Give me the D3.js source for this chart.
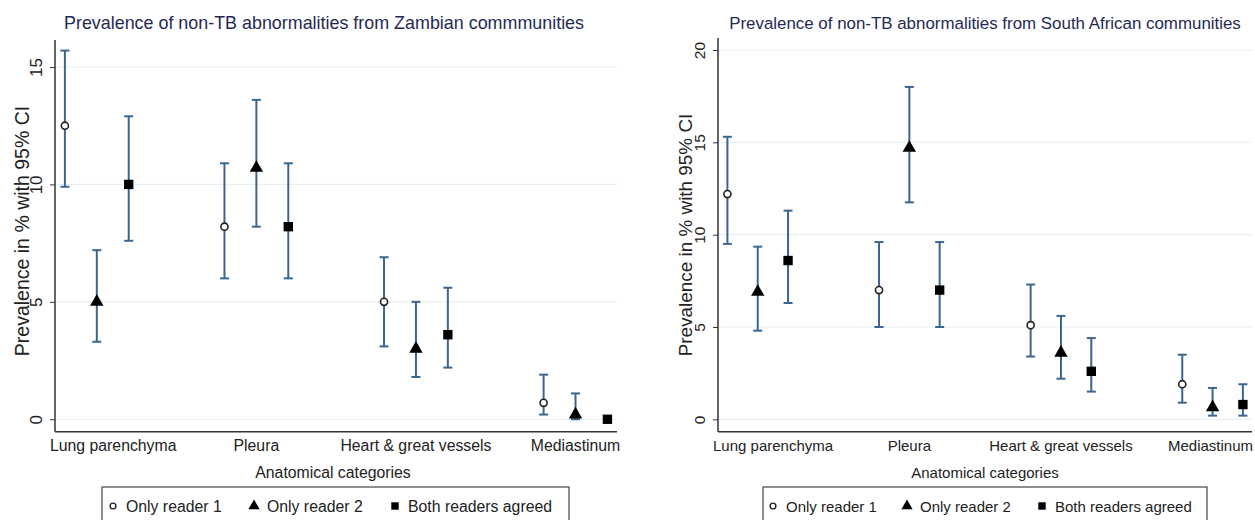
<!DOCTYPE html>
<html><head><meta charset="utf-8">
<script src="https://cdn.jsdelivr.net/npm/d3@7"></script>
<style>body{margin:0;background:#fff;} svg{display:block;font-family:"Liberation Sans",Arial,sans-serif;}</style>
</head><body>
<svg id="c" width="1255" height="520"></svg>
<script>
const categories = ["Lung parenchyma", "Pleura", "Heart & great vessels", "Mediastinum"];
const seriesNames = ["Only reader 1", "Only reader 2", "Both readers agreed"];
const yTicksZambia = [0, 5, 10, 15];
const yTicksSA = [0, 5, 10, 15, 20];

// Zambia: [category][series]
const zambiaEst   = [[12.5, 5.0, 10.0], [8.2, 10.7, 8.2], [5.0, 3.0, 3.6], [0.7, 0.2, 0.0]];
const zambiaLower = [[9.9, 3.3, 7.6],   [6.0, 8.2, 6.0],  [3.1, 1.8, 2.2], [0.2, 0.0, 0.0]];
const zambiaUpper = [[15.7, 7.2, 12.9], [10.9, 13.6, 10.9], [6.9, 5.0, 5.6], [1.9, 1.1, 0.0]];

// South Africa
const saEst   = [[12.2, 6.9, 8.6],  [7.0, 14.7, 7.0],  [5.1, 3.6, 2.6], [1.9, 0.65, 0.8]];
const saLower = [[9.5, 4.8, 6.3],   [5.0, 11.75, 5.0], [3.4, 2.2, 1.5], [0.9, 0.2, 0.2]];
const saUpper = [[15.3, 9.35, 11.3],[9.6, 18.0, 9.6],  [7.3, 5.6, 4.4], [3.5, 1.7, 1.9]];

const titles = ["Prevalence of non-TB abnormalities from Zambian commmunities",
                "Prevalence of non-TB abnormalities from South African communities"];
const yTitle = "Prevalence in % with 95% CI";
const xTitle = "Anatomical categories";

const W = 1255;
const svg = d3.select("#c");
const errColor = "#3b6690";

function panel(cfg) {
  const g = svg.append("g");
  const x = d3.scaleLinear().domain([-0.31, 17.3]).range([cfg.x0, cfg.x1]);
  const y = d3.scaleLinear().domain(cfg.ydom).range([cfg.yb, cfg.yt]);

  // gridlines
  g.selectAll(".grid").data(cfg.ticks).join("line")
    .attr("x1", cfg.x0).attr("x2", cfg.x1)
    .attr("y1", d => y(d)).attr("y2", d => y(d))
    .attr("stroke", "#e6eff3").attr("stroke-width", 1.2);

  // y axis
  const yAxis = d3.axisLeft(y).tickValues(cfg.ticks).tickSize(5).tickPadding(0).tickFormat(d3.format("d"));
  const ya = g.append("g").attr("transform", `translate(${cfg.x0},0)`).call(yAxis);
  ya.select(".domain").remove();
  ya.selectAll(".tick line").attr("stroke", "#333");
  ya.selectAll(".tick text").attr("font-size", cfg.tickFs).attr("fill", "#222")
    .attr("text-anchor", "middle").attr("dominant-baseline", "central")
    .attr("transform", "translate(-19,0) rotate(-90)").attr("x", 0).attr("dy", 0);
  g.append("line").attr("x1", cfg.x0).attr("x2", cfg.x0).attr("y1", cfg.yt).attr("y2", cfg.yb)
    .attr("stroke", "#333").attr("stroke-width", 1.5);
  g.append("line").attr("x1", cfg.x0).attr("x2", cfg.x1).attr("y1", cfg.yb).attr("y2", cfg.yb)
    .attr("stroke", "#333").attr("stroke-width", 1.5);

  // category labels
  categories.forEach((c, i) => {
    const cx = x(i * 5 + 1);
    const t = g.append("text").text(c).attr("font-size", cfg.fs).attr("fill", "#222")
      .attr("y", cfg.yb + 19).attr("x", cx).attr("text-anchor", "middle");
    const w = t.node().getComputedTextLength();
    if (cx - w / 2 < cfg.x0 - 5) t.attr("text-anchor", "start").attr("x", cfg.x0 - 5);
    if (cx + w / 2 > W - 2) t.attr("text-anchor", "end").attr("x", W - 2);
  });

  // axis titles
  g.append("text").text(xTitle).attr("font-size", cfg.fs).attr("fill", "#222")
    .attr("x", cfg.xTitleX).attr("y", cfg.yb + 46).attr("text-anchor", "middle");
  g.append("text").text(yTitle).attr("font-size", cfg.yTitleFs).attr("fill", "#222")
    .attr("text-anchor", "middle")
    .attr("transform", `translate(${cfg.yTitleX},${cfg.yTitleY}) rotate(-90)`);
  g.append("text").text(cfg.title).attr("font-size", cfg.titleFs).attr("fill", "#1f2a55")
    .attr("x", cfg.titleX).attr("y", 29).attr("text-anchor", "middle");

  // data points
  const pts = [];
  cfg.est.forEach((row, i) => row.forEach((v, j) => {
    pts.push({pos: i * 5 + j, s: j, v, lo: cfg.lo[i][j], hi: cfg.hi[i][j]});
  }));
  const cap = 4.5;
  const eb = g.append("g").attr("stroke", errColor).attr("stroke-width", 2);
  pts.filter(d => d.hi > d.lo).forEach(d => {
    const px = x(d.pos);
    eb.append("line").attr("x1", px).attr("x2", px).attr("y1", y(d.lo)).attr("y2", y(d.hi));
    eb.append("line").attr("x1", px - cap).attr("x2", px + cap).attr("y1", y(d.lo)).attr("y2", y(d.lo));
    eb.append("line").attr("x1", px - cap).attr("x2", px + cap).attr("y1", y(d.hi)).attr("y2", y(d.hi));
  });
  const sym = [d3.symbolCircle, d3.symbolTriangle, d3.symbolSquare];
  const size = [40, 78, 88];
  g.selectAll(".pt").data(pts).join("path")
    .attr("transform", d => `translate(${x(d.pos)},${y(d.v)})`)
    .attr("d", d => d3.symbol().type(sym[d.s]).size(size[d.s])())
    .attr("fill", d => d.s === 0 ? "#fff" : "#000")
    .attr("stroke", d => d.s === 0 ? "#222" : "none").attr("stroke-width", 1.6);

  // legend
  const lg = g.append("g");
  lg.append("rect").attr("x", cfg.legX).attr("y", 487).attr("width", cfg.legW).attr("height", 40)
    .attr("fill", "#fff").attr("stroke", "#444").attr("stroke-width", 1.2);
  seriesNames.forEach((n, j) => {
    const sx = cfg.legX + cfg.legOff[j];
    lg.append("path").attr("transform", `translate(${sx},${506})`)
      .attr("d", d3.symbol().type(sym[j]).size(j === 0 ? 26 : 55)())
      .attr("fill", j === 0 ? "#fff" : "#000").attr("stroke", j === 0 ? "#222" : "none").attr("stroke-width", 1.4);
    lg.append("text").text(n).attr("x", sx + 13).attr("y", 512).attr("font-size", cfg.fs).attr("fill", "#222");
  });
}

panel({x0: 55, x1: 617, yb: 431.7, yt: 40, ydom: [-0.53, 16.15], ticks: yTicksZambia,
  est: zambiaEst, lo: zambiaLower, hi: zambiaUpper, title: titles[0], titleX: 324,
  fs: 15.8, tickFs: 17, yTitleFs: 19.5, titleFs: 17.9,
  xTitleX: 333, yTitleX: 29, yTitleY: 231, legX: 102, legW: 467, legOff: [11, 152, 293]});
panel({x0: 718, x1: 1252, yb: 431.7, yt: 38, ydom: [-0.67, 20.65], ticks: yTicksSA,
  est: saEst, lo: saLower, hi: saUpper, title: titles[1], titleX: 985,
  fs: 15, tickFs: 15.5, yTitleFs: 18.9, titleFs: 16.9,
  xTitleX: 985, yTitleX: 692, yTitleY: 235, legX: 763, legW: 444, legOff: [10, 144, 279]});
</script>
</body></html>
